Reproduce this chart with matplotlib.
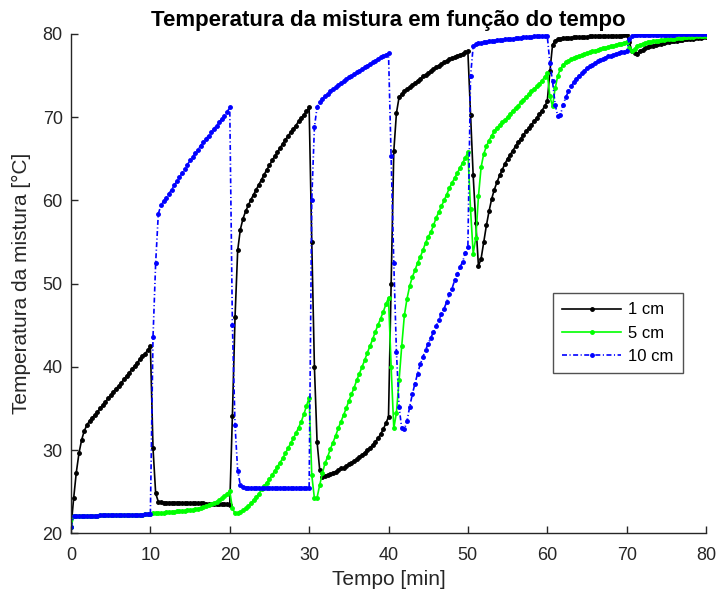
import numpy as np
import matplotlib
matplotlib.use("Agg")
import matplotlib.pyplot as plt

# time grid (min), one sample every 20 s
tempo = np.linspace(0, 80, 241)

serie_1cm = [
    # 0-10
    20.7, 24.2, 27.3, 29.6, 31.2, 32.3, 33.0, 33.5, 33.9, 34.2,
    34.6, 35.0, 35.4, 35.8, 36.2, 36.6, 37.0, 37.4, 37.7, 38.1,
    38.5, 38.9, 39.3, 39.7, 40.1, 40.5, 40.9, 41.3, 41.6, 42.0,
    # 10-20
    42.5, 30.2, 24.8, 23.8, 23.75, 23.7, 23.7, 23.7, 23.7, 23.7,
    23.7, 23.7, 23.65, 23.65, 23.65, 23.65, 23.6, 23.6, 23.6, 23.6,
    23.6, 23.55, 23.55, 23.55, 23.55, 23.5, 23.5, 23.5, 23.5, 23.5,
    # 20-30
    23.45, 34.1, 46.0, 54.0, 56.5, 57.8, 58.7, 59.4, 60.1, 60.7,
    61.3, 61.9, 62.5, 63.1, 63.7, 64.2, 64.8, 65.3, 65.8, 66.3,
    66.8, 67.3, 67.7, 68.2, 68.6, 69.0, 69.5, 69.9, 70.3, 70.7,
    # 30-40
    71.2, 55.0, 40.0, 31.0, 27.6, 26.8, 26.9, 27.0, 27.1, 27.3,
    27.4, 27.6, 27.8, 27.9, 28.1, 28.3, 28.5, 28.7, 28.9, 29.2,
    29.4, 29.7, 30.0, 30.3, 30.6, 31.0, 31.4, 31.9, 32.5, 33.2,
    # 40-50
    34.0, 50.0, 65.9, 70.5, 72.4, 72.8, 73.1, 73.4, 73.6, 73.9,
    74.1, 74.4, 74.6, 74.9, 75.1, 75.3, 75.6, 75.8, 76.0, 76.2,
    76.4, 76.6, 76.8, 76.95, 77.1, 77.25, 77.4, 77.5, 77.65, 77.8,
    # 50-60
    77.9, 70.3, 63.0, 57.3, 52.1, 53.0, 55.0, 57.0, 58.7, 60.2,
    61.3, 62.2, 63.0, 63.7, 64.4, 65.0, 65.5, 66.0, 66.5, 67.0,
    67.4, 67.9, 68.3, 68.7, 69.1, 69.5, 69.9, 70.4, 70.8, 71.3,
    # 60-70
    71.9, 75.5, 78.7, 79.2, 79.35, 79.45, 79.5, 79.5, 79.55, 79.55,
    79.6, 79.6, 79.6, 79.65, 79.65, 79.65, 79.7, 79.7, 79.7, 79.7,
    79.75, 79.75, 79.75, 79.75, 79.8, 79.8, 79.8, 79.8, 79.8, 79.85,
    # 70-80
    79.9, 79.0, 78.0, 77.7, 77.6, 77.9, 78.1, 78.3, 78.4, 78.5,
    78.6, 78.7, 78.8, 78.85, 78.9, 79.0, 79.05, 79.1, 79.15, 79.2,
    79.25, 79.3, 79.35, 79.4, 79.4, 79.45, 79.5, 79.5, 79.55, 79.6,
    79.6,
]

serie_5cm = [
    # 0-10
    20.7, 22.1, 22.1, 22.1, 22.1, 22.1, 22.1, 22.1, 22.1, 22.1,
    22.1, 22.15, 22.15, 22.15, 22.15, 22.15, 22.15, 22.15, 22.15, 22.15,
    22.15, 22.2, 22.2, 22.2, 22.2, 22.2, 22.25, 22.25, 22.3, 22.3,
    # 10-20
    22.35, 22.38, 22.4, 22.42, 22.45, 22.47, 22.5, 22.52, 22.55, 22.6,
    22.62, 22.65, 22.7, 22.72, 22.75, 22.8, 22.85, 22.9, 22.97, 23.05,
    23.15, 23.25, 23.37, 23.5, 23.65, 23.8, 24.0, 24.2, 24.45, 24.75,
    # 20-30
    25.1, 23.0, 22.4, 22.4, 22.55, 22.75, 23.0, 23.3, 23.6, 24.0,
    24.35, 24.7, 25.3, 25.7, 26.1, 26.5, 27.0, 27.5, 28.0, 28.5,
    29.0, 29.6, 30.2, 30.8, 31.4, 32.0, 32.7, 33.4, 34.3, 35.3,
    # 30-40
    36.3, 27.0, 24.2, 24.3, 25.8, 27.2, 28.4, 29.2, 30.1, 30.9,
    31.7, 32.6, 33.4, 34.2, 35.0, 35.9, 36.7, 37.5, 38.4, 39.2,
    40.0, 40.8, 41.7, 42.5, 43.3, 44.2, 45.0, 45.8, 46.6, 47.5,
    # 40-50
    48.3, 40.0, 32.6, 34.5, 38.4, 42.5, 46.2, 48.2, 49.7, 50.8,
    51.6, 52.5, 53.2, 54.0, 54.9, 55.6, 56.2, 57.0, 57.9, 58.6,
    59.3, 60.0, 60.7, 61.5, 62.1, 62.7, 63.3, 63.9, 64.5, 65.1,
    # 50-60
    65.8, 59.0, 53.6, 55.5, 60.5, 64.0, 65.6, 66.5, 67.2, 67.8,
    68.3, 68.7, 69.1, 69.4, 69.7, 70.0, 70.4, 70.8, 71.1, 71.4,
    71.8, 72.1, 72.4, 72.8, 73.1, 73.4, 73.7, 74.0, 74.4, 74.8,
    # 60-70
    75.3, 72.5, 71.3, 73.5, 75.0, 75.8, 76.3, 76.6, 76.8, 77.0,
    77.1, 77.25, 77.4, 77.5, 77.6, 77.7, 77.8, 77.9, 78.0, 78.1,
    78.2, 78.3, 78.35, 78.45, 78.5, 78.6, 78.7, 78.8, 78.85, 78.95,
    # 70-80
    79.0, 78.3, 77.9, 78.2, 78.5, 78.7, 78.8, 78.9, 79.0, 79.05,
    79.1, 79.15, 79.2, 79.25, 79.3, 79.35, 79.4, 79.4, 79.45, 79.5,
    79.5, 79.55, 79.6, 79.6, 79.65, 79.65, 79.7, 79.7, 79.75, 79.75,
    79.8,
]

serie_10cm = [
    # 0-10
    20.7, 22.1, 22.1, 22.1, 22.1, 22.1, 22.1, 22.1, 22.1, 22.1,
    22.1, 22.15, 22.15, 22.15, 22.15, 22.15, 22.15, 22.15, 22.15, 22.15,
    22.15, 22.2, 22.2, 22.2, 22.2, 22.2, 22.25, 22.25, 22.3, 22.3,
    # 10-20
    22.35, 43.6, 52.5, 58.4, 59.4, 59.9, 60.3, 60.8, 61.3, 61.8,
    62.3, 62.8, 63.3, 63.8, 64.3, 64.8, 65.2, 65.7, 66.1, 66.6,
    67.0, 67.4, 67.8, 68.2, 68.6, 69.0, 69.4, 69.8, 70.2, 70.6,
    # 20-30
    71.2, 45.0, 33.0, 27.5, 25.8, 25.6, 25.5, 25.5, 25.5, 25.5,
    25.5, 25.5, 25.5, 25.5, 25.5, 25.5, 25.5, 25.5, 25.45, 25.45,
    25.45, 25.45, 25.45, 25.45, 25.45, 25.45, 25.45, 25.45, 25.45, 25.45,
    # 30-40
    25.4, 60.1, 68.8, 71.2, 71.8, 72.2, 72.5, 72.8, 73.1, 73.4,
    73.6, 73.9, 74.1, 74.4, 74.6, 74.8, 75.0, 75.2, 75.4, 75.6,
    75.8, 76.0, 76.2, 76.4, 76.6, 76.8, 77.0, 77.2, 77.35, 77.5,
    # 40-50
    77.7, 65.3, 52.5, 41.8, 35.2, 32.6, 32.5, 33.5, 35.2, 36.7,
    38.0, 39.2, 40.3, 41.2, 42.0, 42.8, 43.5, 44.2, 44.9, 45.6,
    46.4, 47.0, 47.8, 48.7, 49.4, 50.4, 51.1, 52.0, 52.6, 53.7,
    # 50-60
    54.4, 74.9, 78.5, 78.8, 78.9, 78.95, 79.0, 79.05, 79.1, 79.15,
    79.2, 79.25, 79.3, 79.3, 79.35, 79.4, 79.4, 79.45, 79.5, 79.5,
    79.55, 79.6, 79.6, 79.65, 79.65, 79.7, 79.7, 79.75, 79.75, 79.8,
    # 60-70
    79.8, 76.5, 74.3, 71.5, 70.1, 70.3, 71.5, 72.4, 73.1, 73.7,
    74.2, 74.6, 75.0, 75.3, 75.6, 75.9, 76.1, 76.3, 76.5, 76.7,
    76.85, 77.0, 77.15, 77.3, 77.4, 77.5, 77.6, 77.7, 77.8, 77.85,
    # 70-80
    77.9, 79.4, 79.8, 79.85, 79.85, 79.85, 79.85, 79.85, 79.85, 79.9,
    79.9, 79.9, 79.9, 79.9, 79.9, 79.9, 79.9, 79.9, 79.9, 79.95,
    79.95, 79.95, 79.95, 79.95, 79.95, 79.95, 79.95, 80.0, 80.0, 80.0,
    80.0,
]

rotulos = ["1 cm", "5 cm", "10 cm"]
xticks = [0, 10, 20, 30, 40, 50, 60, 70, 80]
yticks = [20, 30, 40, 50, 60, 70, 80]

plt.rcParams['font.family'] = ['Liberation Sans', 'DejaVu Sans']
plt.rcParams['lines.scale_dashes'] = False

fig = plt.figure(figsize=(7.19, 6.0), dpi=100)
ax = fig.add_axes([71/719, 1-533.3/600, 635/719, 499.3/600])

ax.plot(tempo, serie_1cm, color='k', linestyle='-', marker='.', markersize=5, linewidth=1.2, label=rotulos[0])
ax.plot(tempo, serie_5cm, color=(0, 1, 0), linestyle='-', marker='.', markersize=5, linewidth=1.2, label=rotulos[1])
ax.plot(tempo, serie_10cm, color=(0, 0, 1), linestyle=(0, (3.6, 1.8, 0.8, 1.8)), marker='.', markersize=5, linewidth=1.2, label=rotulos[2])

ax.set_xlim(0, 80)
ax.set_ylim(20, 80)
ax.set_xticks(xticks)
ax.set_yticks(yticks)
for s in ['top', 'right']:
    ax.spines[s].set_visible(False)
for s in ['left', 'bottom']:
    ax.spines[s].set_color('#262626')
    ax.spines[s].set_linewidth(1.0)
ax.tick_params(axis='both', direction='in', length=5, width=1.0, colors='#262626', labelsize=13)
ax.tick_params(axis='x', pad=10)
ax.tick_params(axis='y', pad=6)

ax.set_xlabel('Tempo [min]', fontsize=15, color='#262626', labelpad=4)
ax.set_ylabel('Temperatura da mistura [°C]', fontsize=15, color='#262626', labelpad=8)
ax.set_title('Temperatura da mistura em função do tempo', fontsize=16, fontweight='bold', color='k', pad=6)

leg = ax.legend(loc='upper left', bbox_to_anchor=(0.7595, 0.4807), borderaxespad=0,
                fontsize=12, frameon=True, fancybox=False, handlelength=3.5,
                handletextpad=0.45, borderpad=0.55, labelspacing=0.5)
leg.get_frame().set_edgecolor('#262626')
leg.get_frame().set_linewidth(1.0)

fig.savefig('out.png', dpi=100)
